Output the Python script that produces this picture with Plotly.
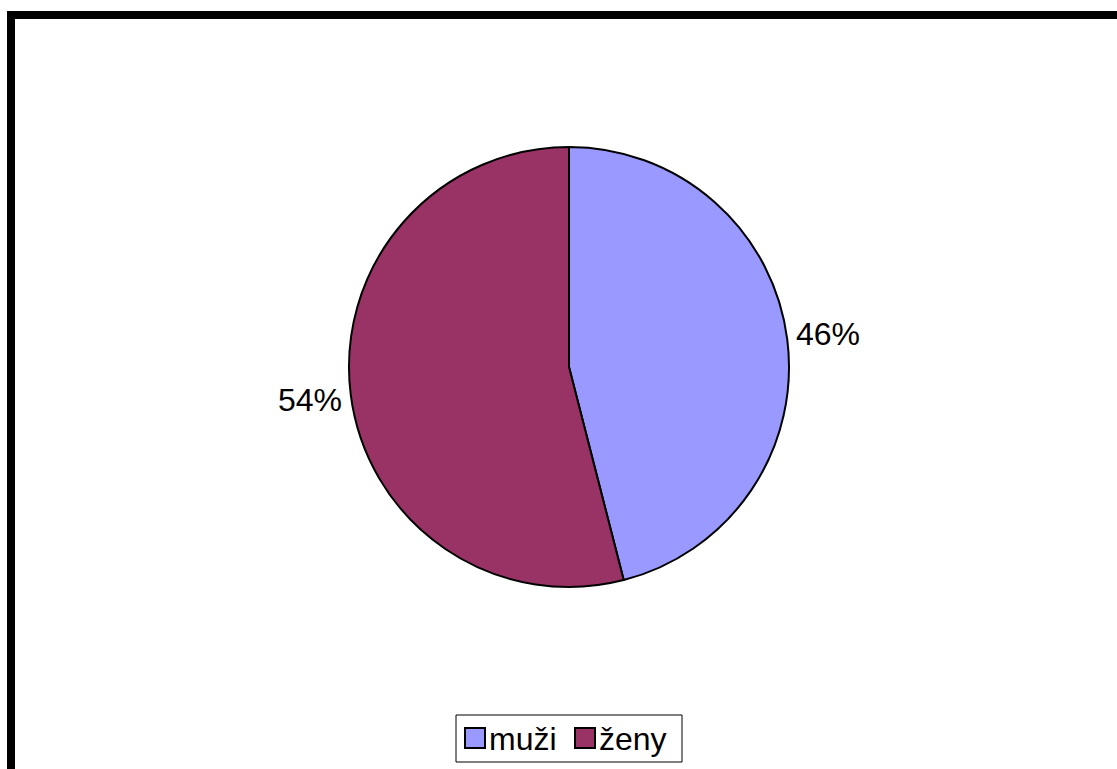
import math
import plotly.graph_objects as go

# Gender split
labels = ["muži", "ženy"]
values = [46, 54]
colors = ["#9999FF", "#993366"]

W, H = 1117, 769
FONT = "Liberation Sans, Arial"

# Pie geometry in pixels
CX, CY, R = 569, 367, 220
LABEL_R = 261


def px(x):
    return x / W


def py(y):
    return 1 - y / H


fig = go.Figure(
    go.Pie(
        labels=labels,
        values=values,
        sort=False,
        direction="clockwise",
        rotation=0,
        marker=dict(colors=colors, line=dict(color="black", width=2)),
        textinfo="none",
        domain=dict(x=[px(CX - R), px(CX + R)], y=[py(CY + R), py(CY - R)]),
        hoverinfo="label+percent",
        showlegend=False,
    )
)

annotations = []

# Percentage labels placed outside each slice at its mid angle
total = sum(values)
start = 0.0
for v in values:
    frac = v / total
    mid = (start + frac / 2) * 2 * math.pi  # clockwise from 12 o'clock
    lx = CX + LABEL_R * math.sin(mid)
    ly = CY - LABEL_R * math.cos(mid)
    annotations.append(
        dict(
            text=f"{round(frac * 100)}%", xref="paper", yref="paper",
            x=px(lx), y=py(ly), xanchor="center", yanchor="middle",
            showarrow=False,
            font=dict(family=FONT, size=32, color="black"),
        )
    )
    start += frac

# Outer frame
shapes = [
    dict(
        type="rect", xref="paper", yref="paper",
        x0=px(11), y0=py(15), x1=px(W + 20), y1=py(H + 20),
        line=dict(color="black", width=8),
        fillcolor="rgba(0,0,0,0)", layer="above",
    ),
    # legend box
    dict(
        type="rect", xref="paper", yref="paper",
        x0=px(456), y0=py(715), x1=px(682), y1=py(762),
        line=dict(color="black", width=1),
        fillcolor="white", layer="above",
    ),
]

# Legend entries: swatch + label
swatch_x = [465, 575]
for name, col, sx in zip(labels, colors, swatch_x):
    shapes.append(
        dict(
            type="rect", xref="paper", yref="paper",
            x0=px(sx), y0=py(728), x1=px(sx + 20), y1=py(748),
            line=dict(color="black", width=2),
            fillcolor=col, layer="above",
        )
    )
    annotations.append(
        dict(
            text=name, xref="paper", yref="paper",
            x=px(sx + 22), y=py(739), xanchor="left", yanchor="middle",
            showarrow=False,
            font=dict(family=FONT, size=32, color="black"),
        )
    )

fig.update_layout(
    width=W,
    height=H,
    margin=dict(l=0, r=0, t=0, b=0),
    paper_bgcolor="white",
    plot_bgcolor="white",
    font=dict(family=FONT, color="black"),
    showlegend=False,
    shapes=shapes,
    annotations=annotations,
)

fig.write_html("out.html")
